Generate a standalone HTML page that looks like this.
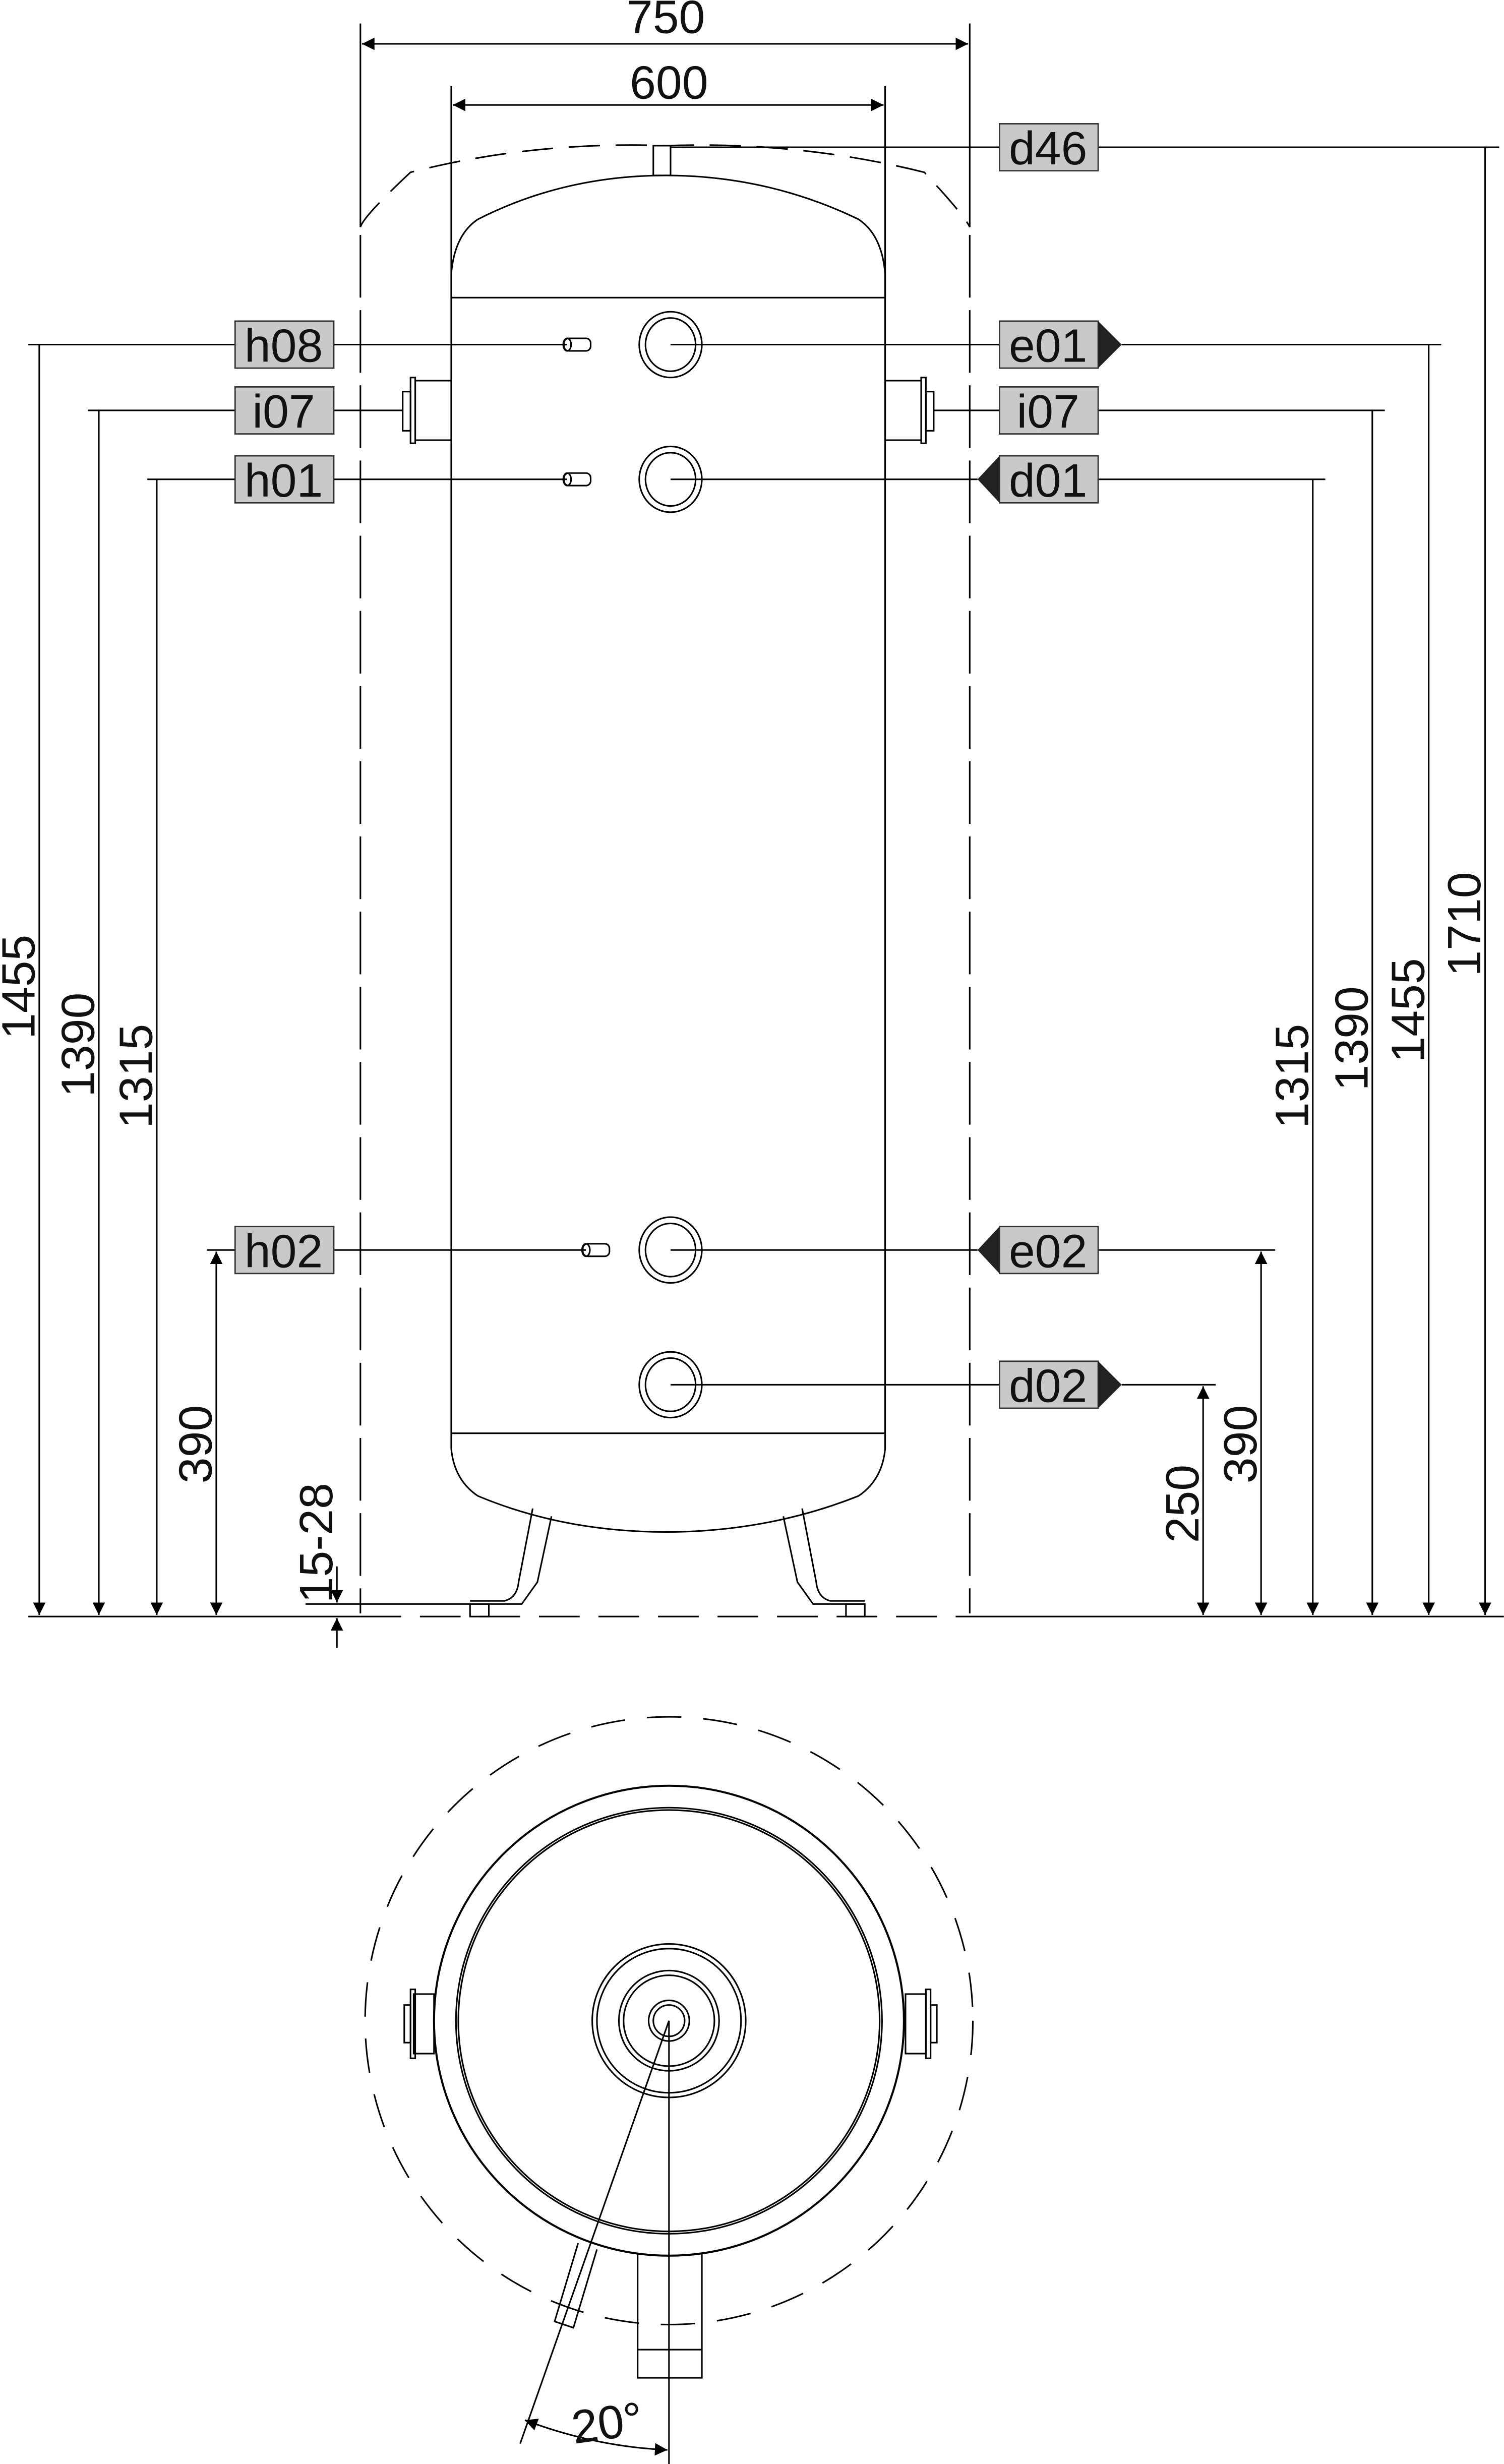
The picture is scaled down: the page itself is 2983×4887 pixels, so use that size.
<!DOCTYPE html>
<html><head><meta charset="utf-8"><style>
html,body{margin:0;padding:0;background:#fff}
svg{display:block}
text{font-family:"Liberation Sans Narrow","Liberation Sans",sans-serif;fill:#111}
</style></head><body>
<svg width="2983" height="4887" viewBox="0 0 960 1573" xmlns="http://www.w3.org/2000/svg">
<defs>
<marker id="a" viewBox="0 0 10 10" refX="10" refY="5" markerWidth="8" markerHeight="9" markerUnits="userSpaceOnUse" orient="auto-start-reverse"><path d="M0,0L10,5L0,10Z" fill="#000"/></marker>
</defs>
<g stroke="#000" stroke-width="1" fill="none">
<!-- top dims -->
<line x1="230" y1="15" x2="230" y2="145"/><line x1="619" y1="15" x2="619" y2="145"/>
<line x1="231" y1="28" x2="618" y2="28" marker-start="url(#a)" marker-end="url(#a)"/>
<line x1="288" y1="55" x2="288" y2="190"/><line x1="565" y1="55" x2="565" y2="190"/>
<line x1="289" y1="67" x2="564" y2="67" marker-start="url(#a)" marker-end="url(#a)"/>
<!-- dashed outline -->
<path d="M230,145 Q232,138 262,110 Q340,90 425,93 Q510,90 590,110 Q616,138 619,145" stroke-dasharray="20,10"/>
<line x1="230" y1="150" x2="230" y2="1030" stroke-dasharray="40,8"/>
<line x1="619" y1="150" x2="619" y2="1030" stroke-dasharray="40,8"/>
<line x1="230" y1="1032" x2="610" y2="1032" stroke-dasharray="26,12"/>
<!-- tank -->
<path d="M288,190 L288,175 Q290,150 305,140 Q360,112 425,112 Q490,112 548,140 Q563,150 565,175 L565,190 Z"/>
<rect x="417" y="93" width="11" height="19"/>
<line x1="288" y1="190" x2="288" y2="915"/><line x1="565" y1="190" x2="565" y2="915"/>
<line x1="288" y1="915" x2="565" y2="915"/>
<path d="M288,915 L288,925 Q290,945 305,955 Q360,978 425,978 Q490,978 548,955 Q563,945 565,925 L565,915"/>
<!-- legs -->
<path d="M340,963 L331,1010 Q330,1020 322,1022 L300,1022 M352,968 L343,1010 L333,1024 L300,1024"/>
<path d="M512,963 L521,1010 Q522,1020 530,1022 L552,1022 M500,968 L509,1010 L519,1024 L552,1024"/>
<rect x="300" y="1024" width="12" height="8"/><rect x="540" y="1024" width="12" height="8"/>
<!-- ports -->
<g>
<ellipse cx="428" cy="220" rx="20" ry="21"/><ellipse cx="428" cy="220" rx="16" ry="17"/>
<ellipse cx="428" cy="306" rx="20" ry="21"/><ellipse cx="428" cy="306" rx="16" ry="17"/>
<ellipse cx="428" cy="798" rx="20" ry="21"/><ellipse cx="428" cy="798" rx="16" ry="17"/>
<ellipse cx="428" cy="884" rx="20" ry="21"/><ellipse cx="428" cy="884" rx="16" ry="17"/>
</g>
<g>
<rect x="360" y="216" width="17" height="8" rx="3"/><ellipse cx="362" cy="220" rx="2.5" ry="4"/>
<rect x="360" y="302" width="17" height="8" rx="3"/><ellipse cx="362" cy="306" rx="2.5" ry="4"/>
<rect x="372" y="794" width="17" height="8" rx="3"/><ellipse cx="374" cy="798" rx="2.5" ry="4"/>
</g>
<!-- side nozzles -->
<rect x="265" y="243" width="23" height="38"/><rect x="262" y="241" width="3" height="42"/><rect x="257" y="250" width="5" height="25"/>
<rect x="565" y="243" width="23" height="38"/><rect x="588" y="241" width="3" height="42"/><rect x="591" y="250" width="5" height="25"/>
<!-- leader lines -->
<line x1="18" y1="220" x2="150" y2="220"/><line x1="213" y1="220" x2="362" y2="220"/>
<line x1="56" y1="262" x2="150" y2="262"/><line x1="213" y1="262" x2="257" y2="262"/>
<line x1="94" y1="306" x2="150" y2="306"/><line x1="213" y1="306" x2="362" y2="306"/>
<line x1="132" y1="798" x2="150" y2="798"/><line x1="213" y1="798" x2="374" y2="798"/>
<line x1="428" y1="94" x2="638" y2="94"/><line x1="701" y1="94" x2="957" y2="94"/>
<line x1="428" y1="220" x2="638" y2="220"/><line x1="716" y1="220" x2="920" y2="220"/>
<line x1="596" y1="262" x2="638" y2="262"/><line x1="701" y1="262" x2="884" y2="262"/>
<line x1="428" y1="306" x2="624" y2="306"/><line x1="701" y1="306" x2="846" y2="306"/>
<line x1="428" y1="798" x2="624" y2="798"/><line x1="701" y1="798" x2="814" y2="798"/>
<line x1="428" y1="884" x2="638" y2="884"/><line x1="716" y1="884" x2="776" y2="884"/>
<!-- baselines -->
<line x1="18" y1="1032" x2="230" y2="1032"/><line x1="610" y1="1032" x2="960" y2="1032"/>
<line x1="195" y1="1024" x2="300" y2="1024"/>
<!-- vertical dims -->
<line x1="25" y1="220" x2="25" y2="1031" marker-end="url(#a)"/>
<line x1="63" y1="262" x2="63" y2="1031" marker-end="url(#a)"/>
<line x1="100" y1="306" x2="100" y2="1031" marker-end="url(#a)"/>
<line x1="138" y1="799" x2="138" y2="1031" marker-start="url(#a)" marker-end="url(#a)"/>
<line x1="768" y1="885" x2="768" y2="1031" marker-start="url(#a)" marker-end="url(#a)"/>
<line x1="805" y1="799" x2="805" y2="1031" marker-start="url(#a)" marker-end="url(#a)"/>
<line x1="838" y1="306" x2="838" y2="1031" marker-end="url(#a)"/>
<line x1="876" y1="262" x2="876" y2="1031" marker-end="url(#a)"/>
<line x1="912" y1="220" x2="912" y2="1031" marker-end="url(#a)"/>
<line x1="948" y1="94" x2="948" y2="1031" marker-end="url(#a)"/>
<line x1="215" y1="1000" x2="215" y2="1023" marker-end="url(#a)"/>
<line x1="215" y1="1052" x2="215" y2="1033" marker-end="url(#a)"/>
<!-- bottom view -->
<circle cx="427" cy="1290" r="194" stroke-dasharray="22,14"/>
<circle cx="427" cy="1290" r="150" stroke-width="1.3"/>
<circle cx="427" cy="1290" r="136"/><circle cx="427" cy="1290" r="134.5"/>
<circle cx="427" cy="1290" r="49"/><circle cx="427" cy="1290" r="46"/>
<circle cx="427" cy="1290" r="32"/><circle cx="427" cy="1290" r="29"/>
<circle cx="427" cy="1290" r="13"/><circle cx="427" cy="1290" r="10"/>
<rect x="264" y="1273" width="13" height="38"/><rect x="262" y="1270" width="3" height="44"/><rect x="258" y="1280" width="4" height="24"/>
<rect x="578" y="1273" width="13" height="38"/><rect x="591" y="1270" width="3" height="44"/><rect x="594" y="1280" width="4" height="24"/>
<path d="M407,1439 L407,1518 L448,1518 L448,1439 M407,1500 L448,1500"/>
<path d="M369,1432 L354,1482 L366,1486 L381,1436"/>
<line x1="427" y1="1290" x2="427" y2="1573"/>
<line x1="427" y1="1290" x2="332" y2="1560"/>
<path d="M335,1545 Q380,1562 426,1564" marker-start="url(#a)" marker-end="url(#a)"/>
</g>
<!-- label boxes -->
<g fill="#c8c9cb" stroke="#333" stroke-width="0.9">
<rect x="638" y="79" width="63" height="30"/>
<rect x="150" y="205" width="63" height="30"/><rect x="638" y="205" width="63" height="30"/>
<rect x="150" y="247" width="63" height="30"/><rect x="638" y="247" width="63" height="30"/>
<rect x="150" y="291" width="63" height="30"/><rect x="638" y="291" width="63" height="30"/>
<rect x="150" y="783" width="63" height="30"/><rect x="638" y="783" width="63" height="30"/>
<rect x="638" y="869" width="63" height="30"/>
</g>
<g fill="#222">
<path d="M701,205 L716,220 L701,235Z"/><path d="M638,291 L624,306 L638,321Z"/>
<path d="M638,783 L624,798 L638,813Z"/><path d="M701,869 L716,884 L701,899Z"/>
</g>
<g font-size="30" text-anchor="middle">
<text x="425" y="21">750</text>
<text x="427" y="63">600</text>
<text x="669" y="105">d46</text>
<text x="181" y="231">h08</text><text x="669" y="231">e01</text>
<text x="181" y="273">i07</text><text x="669" y="273">i07</text>
<text x="181" y="317">h01</text><text x="669" y="317">d01</text>
<text x="181" y="809">h02</text><text x="669" y="809">e02</text>
<text x="669" y="895">d02</text>
<text transform="translate(22,630) rotate(-90)">1455</text>
<text transform="translate(60,667) rotate(-90)">1390</text>
<text transform="translate(97,687) rotate(-90)">1315</text>
<text transform="translate(135,922) rotate(-90)">390</text>
<text transform="translate(212,985) rotate(-90)">15-28</text>
<text transform="translate(765,960) rotate(-90)">250</text>
<text transform="translate(802,922) rotate(-90)">390</text>
<text transform="translate(835,687) rotate(-90)">1315</text>
<text transform="translate(873,663) rotate(-90)">1390</text>
<text transform="translate(909,645) rotate(-90)">1455</text>
<text transform="translate(945,590) rotate(-90)">1710</text>
<text x="388" y="1557" transform="rotate(-8 388 1550)">20°</text>
</g>
</svg>
</body></html>
